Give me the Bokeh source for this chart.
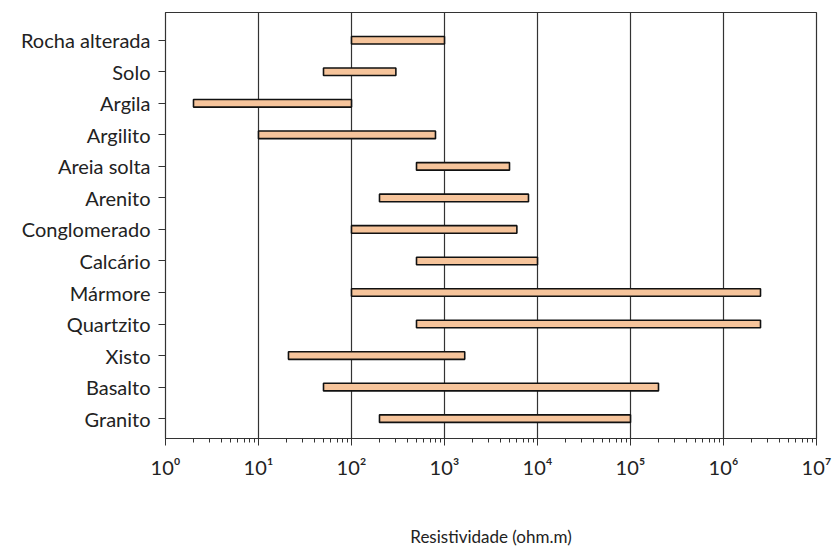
from bokeh.plotting import figure
from bokeh.models import ColumnDataSource, Range1d, FixedTicker
from bokeh.embed import file_html
from bokeh.resources import INLINE

rochas = ["Rocha alterada", "Solo", "Argila", "Argilito", "Areia solta", "Arenito",
          "Conglomerado", "Calcário", "Mármore", "Quartzito", "Xisto", "Basalto", "Granito"]
res_min = [100, 50, 2, 10, 500, 200, 100, 500, 100, 500, 21, 50, 200]
res_max = [1000, 300, 100, 800, 5000, 8000, 6000, 10000, 2.5e6, 2.5e6, 1650, 2e5, 1e5]
decadas = [1, 10, 100, 1e3, 1e4, 1e5, 1e6, 1e7]
rotulos_x = ["10⁰", "10¹", "10²", "10³", "10⁴", "10⁵", "10⁶", "10⁷"]

n = len(rochas)
ypos = [n - 1 - i for i in range(n)]
src = ColumnDataSource(dict(y=ypos, left=res_min, right=res_max, nome=rochas))

FONT = "Lato"
p = figure(width=840, height=549, output_backend="svg", toolbar_location=None,
           x_axis_type="log", x_range=Range1d(1, 1e7), y_range=Range1d(-0.63, n - 0.12),
           min_border_left=165, min_border_right=24, min_border_top=12, min_border_bottom=106)

p.hbar(y="y", left="left", right="right", height=0.24, source=src,
       fill_color="#F6C49B", line_color="#111111", line_width=1.6)

p.outline_line_color = "#333333"
p.outline_line_width = 1.2
p.ygrid.grid_line_color = None
p.xgrid.ticker = FixedTicker(ticks=decadas)
p.xgrid.grid_line_color = "#333333"
p.xgrid.grid_line_width = 1.2
p.xgrid.grid_line_alpha = 1.0

xa = p.xaxis[0]
xa.major_label_overrides = {int(d): r for d, r in zip(decadas, rotulos_x)}
xa.axis_label = "Resistividade (ohm.m)"
xa.axis_label_text_font = FONT
xa.axis_label_text_font_style = "normal"
xa.axis_label_text_font_size = "17px"
xa.axis_label_text_color = "#222222"
xa.axis_label_standoff = 44
xa.major_label_text_font = FONT
xa.major_label_text_font_size = "20px"
xa.major_label_text_color = "#222222"
xa.major_label_standoff = 9
xa.major_tick_out = 7
xa.major_tick_in = 0
xa.minor_tick_out = 4
xa.minor_tick_in = 0
xa.axis_line_color = "#333333"
xa.major_tick_line_color = "#333333"
xa.minor_tick_line_color = "#333333"

ya = p.yaxis[0]
ya.ticker = FixedTicker(ticks=ypos)
ya.major_label_overrides = {y: r for y, r in zip(ypos, rochas)}
ya.major_label_text_font = FONT
ya.major_label_text_font_size = "20px"
ya.major_label_text_color = "#222222"
ya.major_label_standoff = 8
ya.major_tick_out = 7
ya.major_tick_in = 0
ya.minor_tick_line_color = None
ya.axis_line_color = "#333333"
ya.major_tick_line_color = "#333333"

open("out.html", "w").write(file_html(p, INLINE))
